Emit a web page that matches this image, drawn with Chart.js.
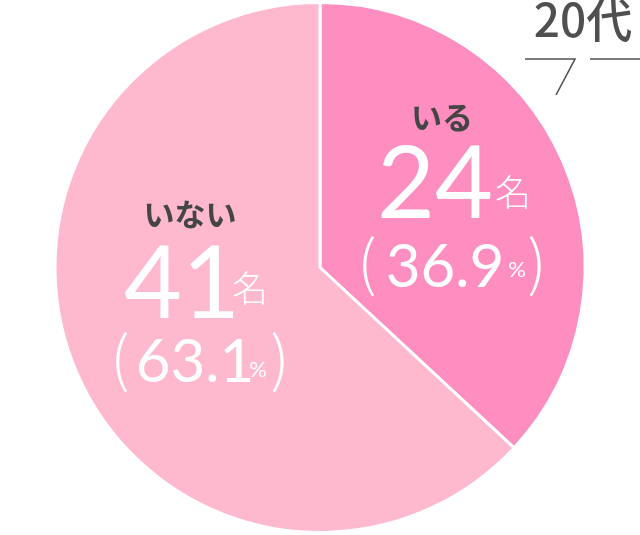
<!DOCTYPE html>
<html lang="ja">
<head>
<meta charset="utf-8">
<script src="https://cdn.jsdelivr.net/npm/chart.js@4/dist/chart.umd.min.js"></script>
<style>
  html, body { margin: 0; padding: 0; background: #fff; }
  #wrap { width: 640px; height: 535px; position: relative; }
</style>
</head>
<body>
<div id="wrap"><canvas id="pie"></canvas></div>
<script>
/* データ */
const labels = ["いる", "いない"];
const counts = [24, 41];
const percents = ["36.9", "63.1"];
const colors = ["#fe8ec0", "#feb9cf"];
const title = "20代";

const LATIN = '"Lato", "Noto Sans", sans-serif';
const JP = '"Noto Sans CJK JP", sans-serif';

/* 文字の位置 (中心からのずれ, 半径265基準) */
const LABEL_POS = [
  { name: [122, -150], num: [115, -50], mei: [193, -75], pct: [125, 19], pctMark: [197, 9],
    lp: [47, -5], rp: [217, -5] },
  { name: [-130, -53], num: [-138, 50], mei: [-70, 21], pct: [-125, 114], pctMark: [-62, 109],
    lp: [-200, 91], rp: [-40, 91] }
];

/* ラベル描画 */
const labelPlugin = {
  id: "labels",
  afterDraw(chart){
    const ctx = chart.ctx;
    const arcs = chart.getDatasetMeta(0).data;
    const cx = arcs[0].x, cy = arcs[0].y, s = arcs[0].outerRadius / 265;
    const at = p => [cx + p[0]*s, cy + p[1]*s];
    ctx.save();
    ctx.textAlign = "center";

    labels.forEach((lab,i)=>{
      const p = LABEL_POS[i];
      // いる / いない
      ctx.fillStyle = "#454545";
      ctx.font = "bold 31px " + JP;
      ctx.textBaseline = "middle";
      let [x,y] = at(p.name); ctx.fillText(lab, x, y);

      ctx.fillStyle = "#fff";
      // 人数
      ctx.textBaseline = "alphabetic";
      ctx.font = "400 100px " + LATIN;
      [x,y] = at(p.num); ctx.fillText(String(counts[i]), x, y);
      // 名
      ctx.textBaseline = "middle";
      ctx.font = "300 36px " + JP;
      [x,y] = at(p.mei); ctx.fillText("名", x, y);
      // パーセント
      ctx.textBaseline = "alphabetic";
      ctx.font = "400 60px " + LATIN;
      [x,y] = at(p.pct); ctx.fillText(percents[i], x, y);
      ctx.font = "400 22px " + LATIN;
      [x,y] = at(p.pctMark); ctx.fillText("%", x, y);
      // かっこ
      ctx.textBaseline = "middle";
      ctx.font = "300 60px " + JP;
      [x,y] = at(p.lp); ctx.fillText("(", x, y);
      [x,y] = at(p.rp); ctx.fillText(")", x, y);
    });

    // 20代
    ctx.fillStyle = "#505050";
    ctx.font = "500 46px " + JP;
    ctx.textBaseline = "middle";
    ctx.fillText(title, 583, 20);
    ctx.strokeStyle = "#505050";
    ctx.lineWidth = 1.6;
    ctx.beginPath();
    ctx.moveTo(525, 59); ctx.lineTo(575, 59); ctx.lineTo(556, 95);
    ctx.moveTo(590, 59); ctx.lineTo(640, 59);
    ctx.stroke();
    ctx.restore();
  }
};

new Chart(document.getElementById("pie"), {
  type: "pie",
  data: {
    labels: labels,
    datasets: [{
      data: counts,
      backgroundColor: colors,
      borderColor: "#ffffff",
      borderWidth: 3
    }]
  },
  options: {
    responsive: true,
    maintainAspectRatio: false,
    animation: false,
    layout: { padding: { top: 1, bottom: 1 } },
    plugins: { legend: { display: false }, tooltip: { enabled: false } }
  },
  plugins: [labelPlugin]
});
</script>
</body>
</html>
